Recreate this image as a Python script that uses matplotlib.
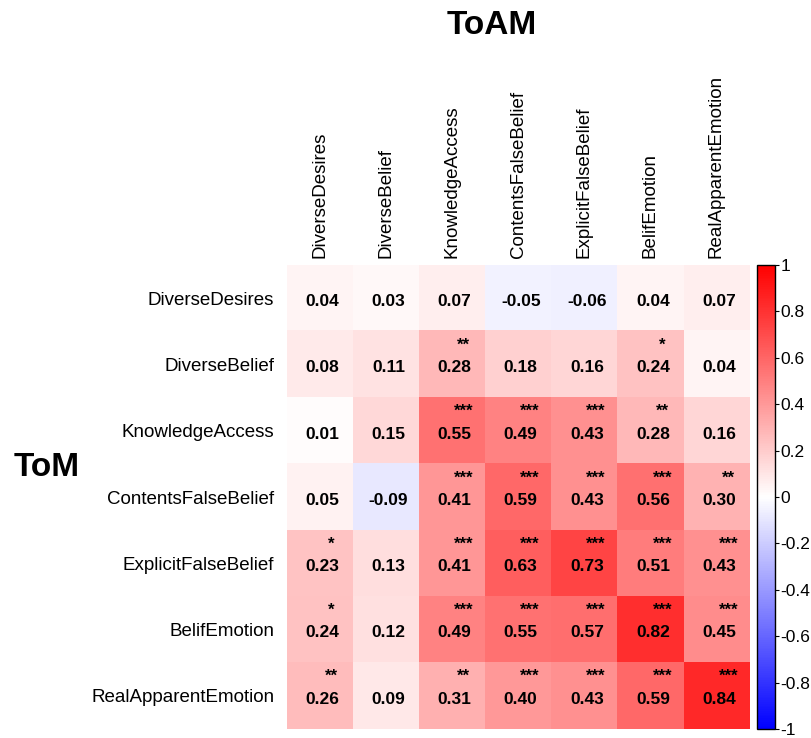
import numpy as np
import matplotlib
matplotlib.use('Agg')
import matplotlib.pyplot as plt

plt.rcParams['font.family'] = ['Liberation Sans', 'DejaVu Sans']

labels = ['DiverseDesires', 'DiverseBelief', 'KnowledgeAccess', 'ContentsFalseBelief',
          'ExplicitFalseBelief', 'BelifEmotion', 'RealApparentEmotion']

# rows = ToM, columns = ToAM
r = np.array([
    [0.04, 0.03, 0.07, -0.05, -0.06, 0.04, 0.07],
    [0.08, 0.11, 0.28, 0.18, 0.16, 0.24, 0.04],
    [0.01, 0.15, 0.55, 0.49, 0.43, 0.28, 0.16],
    [0.05, -0.09, 0.41, 0.59, 0.43, 0.56, 0.30],
    [0.23, 0.13, 0.41, 0.63, 0.73, 0.51, 0.43],
    [0.24, 0.12, 0.49, 0.55, 0.57, 0.82, 0.45],
    [0.26, 0.09, 0.31, 0.40, 0.43, 0.59, 0.84],
])

stars = [
    ['', '', '', '', '', '', ''],
    ['', '', '**', '', '', '*', ''],
    ['', '', '***', '***', '***', '**', ''],
    ['', '', '***', '***', '***', '***', '**'],
    ['*', '', '***', '***', '***', '***', '***'],
    ['*', '', '***', '***', '***', '***', '***'],
    ['**', '', '**', '***', '***', '***', '***'],
]

fig = plt.figure(figsize=(8.12, 7.38), dpi=100)
ax = fig.add_axes([0.353, 0.012, 0.570, 0.629])
cax = fig.add_axes([0.932, 0.012, 0.022, 0.629])

im = ax.imshow(r, cmap='bwr', vmin=-1, vmax=1, aspect='auto')
n = len(labels)
for i in range(n):
    for j in range(n):
        ax.text(j + 0.04, i + 0.05, '%.2f' % r[i, j], ha='center', va='center',
                fontsize=12.5, fontweight='bold', color='black')
        if stars[i][j]:
            ax.text(j + 0.18, i - 0.29, stars[i][j], ha='center', va='center',
                    fontsize=12, fontweight='bold', color='black')

ax.set_xticks(range(n))
ax.set_yticks(range(n))
ax.set_xticklabels(labels, rotation=90, fontsize=13.5)
ax.set_yticklabels(labels, fontsize=13.5)
ax.xaxis.tick_top()
ax.tick_params(axis='y', length=0, pad=9)
ax.tick_params(axis='x', length=0, pad=5)
for s in ax.spines.values():
    s.set_visible(False)

cb = fig.colorbar(im, cax=cax)
ticks = np.linspace(-1, 1, 11)
cb.set_ticks(ticks)
cb.set_ticklabels(['%g' % round(t, 1) for t in ticks])
cb.ax.tick_params(labelsize=12.5, length=3, pad=1)
cb.outline.set_linewidth(1)

fig.text(0.606, 0.965, 'ToAM', ha='center', va='center', fontsize=24, fontweight='bold')
fig.text(0.058, 0.366, 'ToM', ha='center', va='center', fontsize=24, fontweight='bold')

fig.savefig('out.png', dpi=100)
